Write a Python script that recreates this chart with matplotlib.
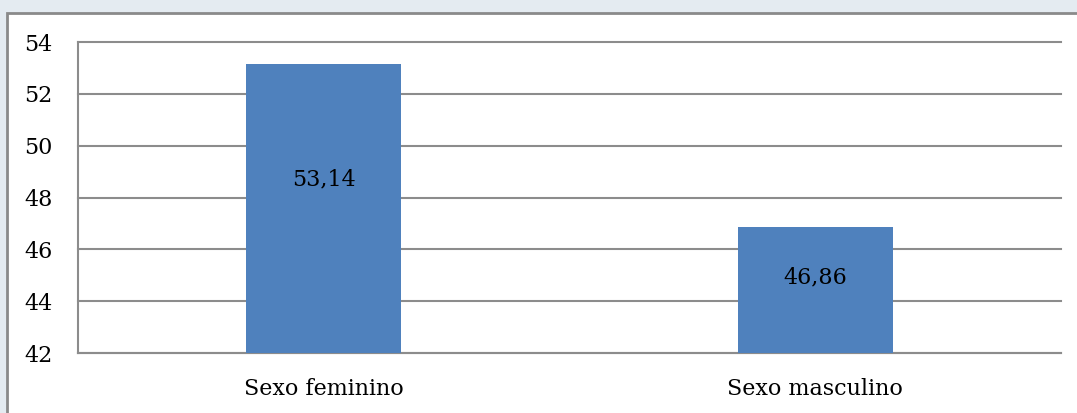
import matplotlib.pyplot as plt
from matplotlib.patches import Rectangle

categories = ["Sexo feminino", "Sexo masculino"]
values = [53.14, 46.86]
value_labels = ["53,14", "46,86"]
yticks = [42, 44, 46, 48, 50, 52, 54]

W, H, DPI = 1077, 413, 100
FONT = "DejaVu Serif"
fig = plt.figure(figsize=(W / DPI, H / DPI), dpi=DPI)
fig.patch.set_facecolor("#e4ebf1")

# white chart frame with grey border, running off the right and bottom edges
frame = Rectangle((7 / W, -0.05), 1.1, 1 - 13 / H + 0.05, transform=fig.transFigure,
                  facecolor="white", edgecolor="#8a8a8a", linewidth=2.0, zorder=-5)
fig.patches.append(frame)

ax = fig.add_axes([78 / W, 1 - 353 / H, (1061 - 78) / W, (353 - 42) / H])
ax.set_zorder(2)
ax.set_facecolor("white")

x = range(len(categories))
ax.bar(x, [v - 42 for v in values], bottom=42, width=0.315, color="#4f81bd", zorder=3)

for xi, v, lab in zip(x, values, value_labels):
    ax.text(xi, 42 + 0.6 * (v - 42), lab, ha="center", va="center",
            fontsize=16, family=FONT, color="black", zorder=4)

ax.set_xlim(-0.5, 1.5)
ax.set_ylim(42, 54)
ax.set_yticks(yticks)
ax.set_yticklabels([str(t) for t in yticks], family=FONT, fontsize=16)
ax.set_xticks(list(x))
ax.set_xticklabels(categories, family=FONT, fontsize=16)
ax.tick_params(axis="both", length=0)
ax.tick_params(axis="y", pad=18.5)
ax.tick_params(axis="x", pad=18)

ax.yaxis.grid(True, color="#8c8c8c", linewidth=1.5, zorder=1)
for gl in ax.get_ygridlines():
    gl.set_clip_on(False)
ax.set_axisbelow(True)
for side in ["top", "right"]:
    ax.spines[side].set_visible(False)
ax.spines["left"].set_color("#8c8c8c")
ax.spines["left"].set_linewidth(1.5)
ax.spines["bottom"].set_color("#8c8c8c")
ax.spines["bottom"].set_linewidth(1.5)

fig.savefig("out.png", dpi=DPI)
